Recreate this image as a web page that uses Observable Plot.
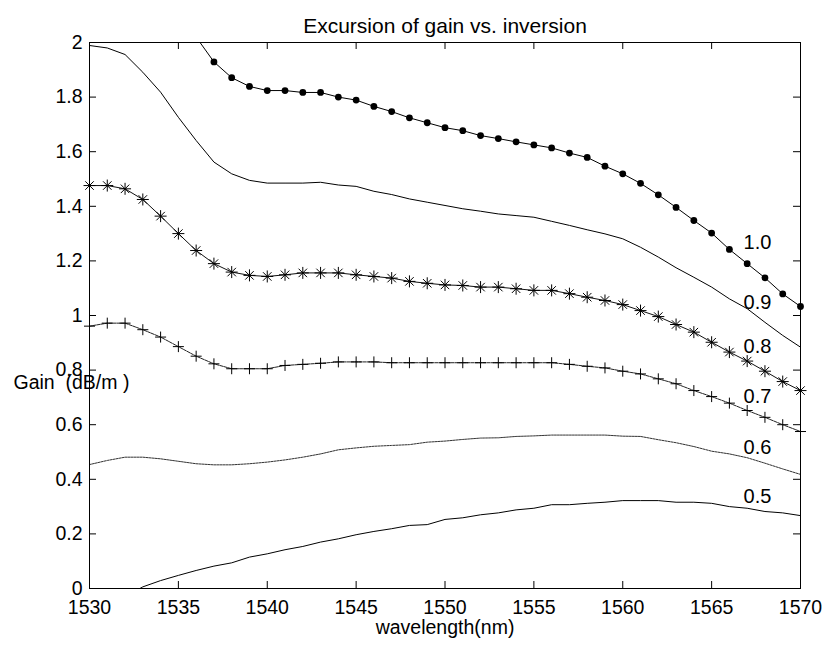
<!DOCTYPE html>
<html><head><meta charset="utf-8">
<script src="https://cdn.jsdelivr.net/npm/d3@7"></script>
<script src="https://cdn.jsdelivr.net/npm/@observablehq/plot@0.6"></script>
<style>
body{margin:0;background:#fff;}
svg text{white-space:pre;}
</style></head><body><div id="chart"></div>
<script>
// ---- data ----
const title = "Excursion of gain vs. inversion";
const xLabel = "wavelength(nm)";
const yLabel = "Gain  (dB/m )";
const wavelength = [1530,1531,1532,1533,1534,1535,1536,1537,1538,1539,1540,1541,1542,1543,1544,1545,1546,1547,1548,1549,1550,1551,1552,1553,1554,1555,1556,1557,1558,1559,1560,1561,1562,1563,1564,1565,1566,1567,1568,1569,1570];
const gain10 = [null,null,null,null,null,null,2.02,1.929,1.871,1.839,1.824,1.824,1.817,1.817,1.80,1.789,1.766,1.747,1.724,1.706,1.688,1.677,1.659,1.648,1.636,1.625,1.614,1.595,1.579,1.547,1.519,1.484,1.442,1.396,1.348,1.302,1.242,1.190,1.138,1.079,1.033];
const gain09 = [1.989,1.98,1.956,1.891,1.818,1.726,1.641,1.562,1.519,1.495,1.485,1.485,1.485,1.488,1.478,1.473,1.455,1.443,1.427,1.415,1.403,1.391,1.382,1.372,1.366,1.360,1.345,1.330,1.314,1.299,1.281,1.250,1.214,1.175,1.140,1.104,1.061,1.025,0.975,0.927,0.884];
const gain08 = [1.476,1.476,1.464,1.425,1.364,1.300,1.238,1.190,1.159,1.147,1.143,1.149,1.156,1.156,1.156,1.149,1.143,1.137,1.125,1.118,1.112,1.110,1.104,1.104,1.098,1.092,1.092,1.080,1.067,1.055,1.040,1.018,0.996,0.967,0.939,0.902,0.866,0.833,0.796,0.758,0.725];
const gain07 = [0.961,0.972,0.972,0.948,0.921,0.886,0.851,0.823,0.805,0.805,0.805,0.817,0.821,0.825,0.830,0.830,0.830,0.827,0.827,0.827,0.827,0.827,0.827,0.827,0.827,0.827,0.827,0.821,0.814,0.808,0.796,0.786,0.768,0.750,0.725,0.703,0.679,0.652,0.627,0.600,0.575];
const gain06 = [0.454,0.469,0.481,0.481,0.475,0.466,0.457,0.453,0.453,0.457,0.463,0.471,0.481,0.493,0.508,0.515,0.521,0.524,0.527,0.536,0.540,0.546,0.551,0.552,0.557,0.559,0.562,0.562,0.562,0.562,0.558,0.557,0.545,0.534,0.520,0.503,0.493,0.479,0.459,0.438,0.418];
const gain05 = [null,null,-0.03,0.006,0.029,0.048,0.066,0.082,0.094,0.115,0.127,0.142,0.154,0.170,0.182,0.197,0.209,0.219,0.231,0.234,0.253,0.259,0.270,0.277,0.288,0.294,0.307,0.307,0.312,0.316,0.322,0.322,0.322,0.316,0.316,0.312,0.300,0.294,0.282,0.277,0.267];
const curveLabels = ["1.0","0.9","0.8","0.7","0.6","0.5"];
const curveLabelX = [1566.8,1566.8,1566.8,1566.8,1566.8,1566.8];
const curveLabelY = [1.268,1.049,0.886,0.703,0.517,0.337];
const xTicks = [1530,1535,1540,1545,1550,1555,1560,1565,1570];
const yTicks = [0,0.2,0.4,0.6,0.8,1,1.2,1.4,1.6,1.8,2];

// ---- layout ----
const W = 825, H = 647, mL = 89, mR = 25, mT = 42, mB = 59;
const fh = H - mT - mB, fw = W - mL - mR;
const TICK = 7;
const font = "'Liberation Sans', Arial, sans-serif";

function rows(vals) {
  return wavelength.map((w, i) => ({w, g: vals[i]})).filter(d => d.g != null);
}
const asterisk = {draw(ctx, size) {
  const r = Math.sqrt(size / Math.PI), d = r * Math.SQRT1_2;
  ctx.moveTo(-r, 0); ctx.lineTo(r, 0); ctx.moveTo(0, -r); ctx.lineTo(0, r);
  ctx.moveTo(-d, -d); ctx.lineTo(d, d); ctx.moveTo(-d, d); ctx.lineTo(d, -d);
}};
const plusSym = {draw(ctx, size) {
  const r = Math.sqrt(size / Math.PI);
  ctx.moveTo(-r, 0); ctx.lineTo(r, 0); ctx.moveTo(0, -r); ctx.lineTo(0, r);
}};

const labelRows = curveLabels.map((t, i) => ({t, x: curveLabelX[i], y: curveLabelY[i]}));

const chart = Plot.plot({
  width: W, height: H,
  marginLeft: mL, marginRight: mR, marginTop: mT, marginBottom: mB,
  style: {fontFamily: font, fontSize: "19.5px", background: "white", color: "black", overflow: "visible"},
  x: {domain: [1530, 1570], label: null},
  y: {domain: [0, 2], label: null},
  marks: [
    // curves
    Plot.line(rows(gain10), {x: "w", y: "g", stroke: "black", strokeWidth: 1, clip: true}),
    Plot.dot(rows(gain10).filter(d => d.g <= 2), {x: "w", y: "g", r: 3.4, fill: "black", stroke: null}),
    Plot.line(rows(gain09), {x: "w", y: "g", stroke: "black", strokeWidth: 1, clip: true}),
    Plot.line(rows(gain08), {x: "w", y: "g", stroke: "#111", strokeWidth: 1, clip: true}),
    Plot.dot(rows(gain08), {x: "w", y: "g", r: 6, symbol: asterisk, fill: "none", stroke: "black", strokeWidth: 1}),
    Plot.line(rows(gain07), {x: "w", y: "g", stroke: "#222", strokeWidth: 1, strokeDasharray: "3,1", clip: true}),
    Plot.dot(rows(gain07), {x: "w", y: "g", r: 5.5, symbol: plusSym, fill: "none", stroke: "black", strokeWidth: 1}),
    Plot.line(rows(gain06), {x: "w", y: "g", stroke: "#333", strokeWidth: 1, strokeDasharray: "2,1", clip: true}),
    Plot.line(rows(gain05), {x: "w", y: "g", stroke: "black", strokeWidth: 1, clip: true}),
    // curve labels
    Plot.text(labelRows, {x: "x", y: "y", text: "t", textAnchor: "start", fontSize: 20}),
    // box and inward ticks
    Plot.frame({stroke: "black", strokeWidth: 1}),
    Plot.tickX(xTicks, {x: d => d, insetTop: fh - TICK, stroke: "black"}),
    Plot.tickX(xTicks, {x: d => d, insetBottom: fh - TICK, stroke: "black"}),
    Plot.tickY(yTicks, {y: d => d, insetRight: fw - TICK, stroke: "black"}),
    Plot.tickY(yTicks, {y: d => d, insetLeft: fw - TICK, stroke: "black"}),
    // tick labels
    Plot.axisX({ticks: xTicks, tickSize: 0, tickPadding: 12, label: null, tickFormat: d => String(d), fontSize: 19.5}),
    Plot.axisY({ticks: yTicks, tickSize: 0, tickPadding: 7, label: null, tickFormat: d => String(d), fontSize: 19.5}),
    // title and axis titles
    Plot.text([title], {frameAnchor: "top", dy: -24, fontSize: 21}),
    Plot.text([xLabel], {frameAnchor: "bottom", dy: 45, fontSize: 19.5}),
    Plot.text([{t: yLabel, y: 0.755}], {y: "y", text: "t", frameAnchor: "left", textAnchor: "start", dx: -76, fontSize: 19.5})
  ]
});
document.getElementById("chart").appendChild(chart);
</script>
</body></html>
